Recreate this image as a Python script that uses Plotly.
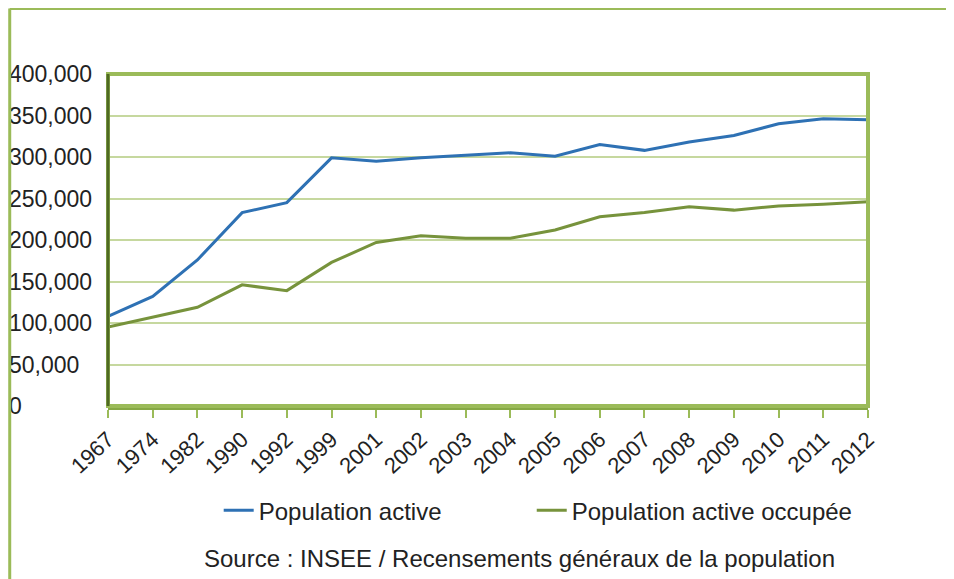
import plotly.graph_objects as go

# Years (categories) and series values
YEARS = ['1967', '1974', '1982', '1990', '1992', '1999', '2001', '2002', '2003',
         '2004', '2005', '2006', '2007', '2008', '2009', '2010', '2011', '2012']

POP_ACTIVE = [108000, 132000, 176000, 233000, 245000, 299000, 295000, 299000, 302000,
              305000, 301000, 315000, 308000, 318000, 326000, 340000, 346000, 345000]

POP_OCCUPEE = [95000, 107000, 119000, 146000, 139000, 173000, 197000, 205000, 202000,
               202000, 212000, 228000, 233000, 240000, 236000, 241000, 243000, 246000]

Y_TICKS = [0, 50000, 100000, 150000, 200000, 250000, 300000, 350000, 400000]
Y_LABELS = ['0', '50,000', '100,000', '150,000', '200,000', '250,000',
            '300,000', '350,000', '400,000']

BLUE = '#2e71b4'
GREEN = '#77933c'
FRAME = '#9bbb59'
GRID = '#c6d89f'
FONT = 'Arial, Liberation Sans, sans-serif'

fig = go.Figure()

fig.add_trace(go.Scatter(
    x=YEARS, y=POP_ACTIVE, name='Population active', mode='lines',
    line=dict(color=BLUE, width=3), legend='legend',
))
fig.add_trace(go.Scatter(
    x=YEARS, y=POP_OCCUPEE, name='Population active occupée', mode='lines',
    line=dict(color=GREEN, width=3), legend='legend2',
))

legend_style = dict(orientation='h', yanchor='middle', y=-0.315, xanchor='left',
                    font=dict(size=24, color='#222222'), bgcolor='rgba(0,0,0,0)')

# page body has an 8px margin, so the figure is 946x571
fig.update_layout(
    width=946,
    height=571,
    margin=dict(l=0, r=86, t=66, b=173, autoexpand=False),
    paper_bgcolor='white',
    plot_bgcolor='white',
    font=dict(family=FONT, color='#222222'),
    showlegend=True,
    legend=dict(x=0.245, **legend_style),
    legend2=dict(x=0.609, **legend_style),
    xaxis=dict(
        type='category', range=[0, 17], domain=[100 / 860, 1], automargin=False,
        showgrid=False, showline=True, linecolor='#86a845', linewidth=4,
        ticks='outside', ticklen=8, tickwidth=2, tickcolor=FRAME,
        tickangle=-43, tickfont=dict(size=22, color='#222222'),
    ),
    yaxis=dict(
        range=[0, 400000], tickvals=Y_TICKS, ticktext=Y_LABELS, automargin=False,
        anchor='free', position=0, side='right',
        showline=False, zeroline=False, ticks='',
        showgrid=True, gridcolor=GRID, gridwidth=2,
        tickfont=dict(size=23, color='#222222'),
    ),
    shapes=[
        # plot area border
        dict(type='rect', xref='paper', yref='paper', x0=100 / 860, x1=1, y0=0, y1=1,
             line=dict(color=FRAME, width=4)),
        # darker left axis line
        dict(type='line', xref='paper', yref='paper', x0=100 / 860, x1=100 / 860,
             y0=0, y1=1, line=dict(color='#4f6a22', width=3)),
        # outer frame (top and left)
        dict(type='line', xref='paper', yref='paper', x0=0.002, x1=1.1, y0=1.197, y1=1.197,
             line=dict(color=FRAME, width=3)),
        dict(type='line', xref='paper', yref='paper', x0=0.002, x1=0.002, y0=1.197, y1=-0.53,
             line=dict(color=FRAME, width=3)),
    ],
    annotations=[
        dict(text='Source : INSEE / Recensements généraux de la population',
             xref='paper', yref='paper', x=0.595, y=-0.458, xanchor='center',
             yanchor='middle', showarrow=False, font=dict(size=24, color='#222222')),
    ],
)

fig.write_html('out.html')
